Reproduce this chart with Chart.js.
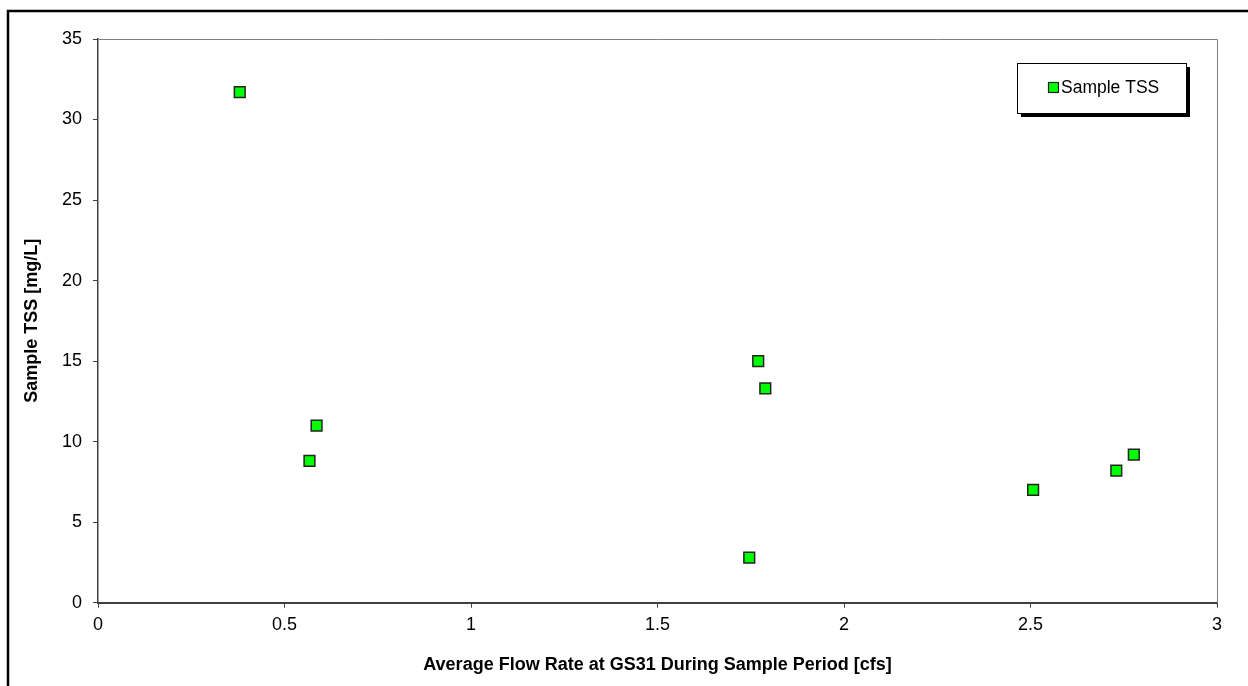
<!DOCTYPE html>
<html>
<head>
<meta charset="utf-8">
<script src="https://cdn.jsdelivr.net/npm/chart.js@4.4.1/dist/chart.umd.min.js"></script>
<style>
    html, body { margin: 0; padding: 0; background: #ffffff; }
    #wrap { width: 1248px; height: 686px; position: relative; }
</style>
</head>
<body>
<div id="wrap"><canvas id="tssChart"></canvas></div>
<script>
// Sample data
const flowRate = [0.380, 0.586, 0.567, 1.770, 1.789, 1.746, 2.507, 2.730, 2.777];
const sampleTss = [31.7, 11.0, 8.8, 15.0, 13.3, 2.8, 7.0, 8.2, 9.2];
const seriesLabel = 'Sample TSS';
const xTitle = 'Average Flow Rate at GS31 During Sample Period [cfs]';
const yTitle = 'Sample TSS [mg/L]';

const FONT = "'Liberation Sans', Arial, sans-serif";
const MARKER_FILL = '#00ff00';
const MARKER_EDGE = '#222222';

// outer frame + plot area border (top/right sides)
const framePlugin = {
    id: 'frame',
    beforeDraw(chart) {
        const ctx = chart.ctx;
        ctx.save();
        ctx.fillStyle = '#ffffff';
        ctx.fillRect(0, 0, chart.width, chart.height);
        ctx.strokeStyle = '#000000';
        ctx.lineWidth = 2.5;
        ctx.strokeRect(8, 11, chart.width + 20, chart.height + 20);
        ctx.restore();
    },
    afterDatasetsDraw(chart) {
        const { ctx, chartArea: a } = chart;
        ctx.save();
        ctx.strokeStyle = '#808080';
        ctx.lineWidth = 1;
        ctx.beginPath();
        ctx.moveTo(a.left, a.top + 0.5);
        ctx.lineTo(a.right + 0.5, a.top + 0.5);
        ctx.lineTo(a.right + 0.5, a.bottom);
        ctx.stroke();
        ctx.restore();
    }
};

// boxed legend with drop shadow
const boxLegend = {
    id: 'boxLegend',
    afterDraw(chart) {
        const ctx = chart.ctx;
        const ds = chart.data.datasets[0];
        const x = 1017, y = 63, w = 169, h = 50;
        ctx.save();
        ctx.fillStyle = '#000000';
        ctx.fillRect(x + 4, y + 4, w, h);
        ctx.fillStyle = '#ffffff';
        ctx.fillRect(x, y, w, h);
        ctx.strokeStyle = '#000000';
        ctx.lineWidth = 1;
        ctx.strokeRect(x + 0.5, y + 0.5, w, h);
        ctx.fillStyle = MARKER_FILL;
        ctx.strokeStyle = MARKER_EDGE;
        ctx.lineWidth = 1.2;
        ctx.fillRect(1048.5, 82.5, 10, 10);
        ctx.strokeRect(1048.5, 82.5, 10, 10);
        ctx.fillStyle = '#000000';
        ctx.font = '17.5px ' + FONT;
        ctx.textBaseline = 'middle';
        ctx.fillText(ds.label, 1061, 88.5);
        ctx.restore();
    }
};

new Chart(document.getElementById('tssChart'), {
    type: 'scatter',
    data: {
        datasets: [{
            label: seriesLabel,
            data: flowRate.map((x, i) => ({ x, y: sampleTss[i] })),
            pointStyle: 'rect',
            pointRadius: 7.6,
            pointHoverRadius: 7.6,
            pointBackgroundColor: MARKER_FILL,
            pointBorderColor: MARKER_EDGE,
            pointBorderWidth: 1.5
        }]
    },
    options: {
        responsive: true,
        maintainAspectRatio: false,
        animation: false,
        layout: { padding: { left: 0, top: 39, right: 31, bottom: 0 } },
        plugins: {
            legend: { display: false },
            tooltip: { enabled: false }
        },
        scales: {
            x: {
                type: 'linear',
                min: 0,
                max: 3,
                afterFit(scale) { scale.height = 83.3; },
                border: { display: true, color: '#404040', width: 2 },
                grid: { display: true, drawOnChartArea: false, drawTicks: true, tickLength: 5, color: '#404040' },
                ticks: {
                    stepSize: 0.5,
                    padding: 7,
                    color: '#000000',
                    font: { family: FONT, size: 18 },
                    maxRotation: 0,
                    callback(value) { return String(Number(value.toFixed(1))); }
                },
                title: {
                    display: true,
                    text: xTitle,
                    color: '#000000',
                    font: { family: FONT, size: 18, weight: 'bold' },
                    padding: { top: 4, bottom: 10 }
                }
            },
            y: {
                type: 'linear',
                min: 0,
                max: 35,
                afterFit(scale) { scale.width = 98; },
                border: { display: true, color: '#404040', width: 1.5 },
                grid: { display: true, drawOnChartArea: false, drawTicks: true, tickLength: 5, color: '#404040' },
                ticks: {
                    stepSize: 5,
                    padding: 11,
                    color: '#000000',
                    font: { family: FONT, size: 18 }
                },
                title: {
                    display: true,
                    text: yTitle,
                    color: '#000000',
                    font: { family: FONT, size: 18, weight: 'bold' },
                    padding: { top: 21, bottom: 4 }
                }
            }
        }
    },
    plugins: [framePlugin, boxLegend]
});
</script>
</body>
</html>
